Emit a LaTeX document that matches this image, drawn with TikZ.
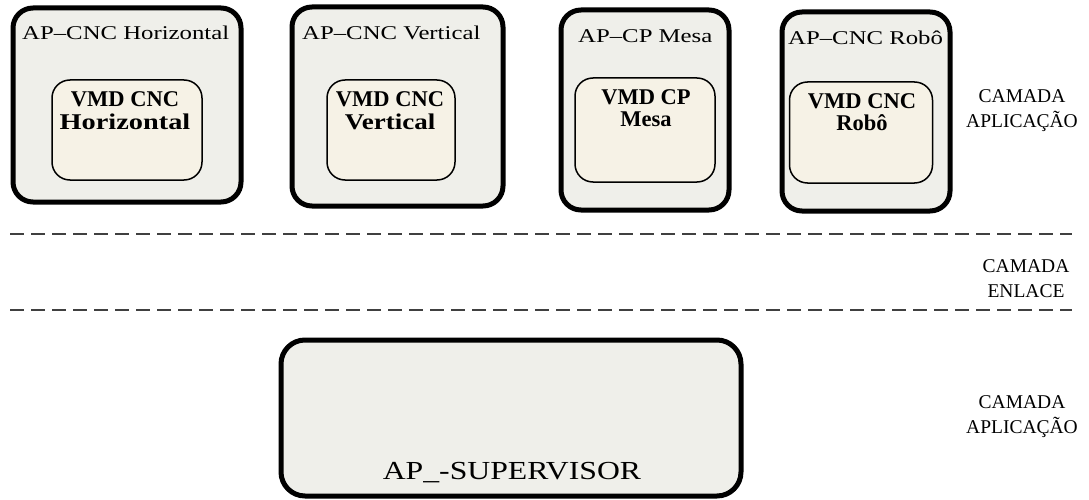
\documentclass[tikz,border=0pt]{standalone}
\usepackage{fontspec}
\usepackage{graphicx}
\setmainfont{Liberation Serif}
\newfontfamily\titlefont{Liberation Serif}[FakeStretch=1.27]
\newfontfamily\supfont{Liberation Serif}[FakeStretch=1.22]
\newcommand\hwide[2]{\scalebox{#1}[1]{#2}}
\definecolor{dotfill}{RGB}{239,239,234}
\definecolor{cream}{RGB}{246,242,230}
\begin{document}
\begin{tikzpicture}[x=1pt,y=-1pt,
  outerbox/.style={draw=black, line width=5pt, rounded corners=20pt, fill=dotfill, inner sep=0pt},
  innerbox/.style={draw=black, line width=1.5pt, rounded corners=18pt, fill=cream, inner sep=0pt},
  titletext/.style={font=\titlefont\fontsize{19.5}{22}\selectfont, inner sep=0pt, anchor=base west},
  innertext/.style={font=\bfseries\fontsize{22.5}{22}\selectfont, align=center, inner sep=0pt, anchor=base},
  layertext/.style={font=\fontsize{19.5}{25}\selectfont, align=center, inner sep=0pt, anchor=base},
  sep/.style={line width=1.4pt, dash pattern=on 14pt off 7pt, draw=black!75}]
\useasboundingbox (0,0) rectangle (1089,500);
% outer application boxes
\node[outerbox, minimum width=228pt, minimum height=194pt] (b1) at (127,105) {};
\node[outerbox, minimum width=211pt, minimum height=199pt] (b2) at (397.5,106.5) {};
\node[outerbox, minimum width=168pt, minimum height=200pt] (b3) at (645,110) {};
\node[outerbox, minimum width=168pt, minimum height=199pt] (b4) at (866,111.5) {};
% titles
\node[titletext] (t1) at (22,40) {AP–CNC Horizontal};
\node[titletext] (t2) at (302,40) {AP–CNC Vertical};
\node[titletext] (t3) at (578,43) {AP–CP Mesa};
\node[titletext] (t4) at (788,45) {AP–CNC Robô};
% inner VMD boxes
\node[innerbox, minimum width=150pt, minimum height=100pt] (i1) at (127,130) {};
\node[innerbox, minimum width=128pt, minimum height=100pt] (i2) at (391,130) {};
\node[innerbox, minimum width=140pt, minimum height=104pt] (i3) at (645,130) {};
\node[innerbox, minimum width=143pt, minimum height=101pt] (i4) at (861,132.5) {};
\node[innertext] (v1) at (125,129) {VMD CNC\\\hwide{1.26}{Horizontal}};
\node[innertext] (v2) at (390,129) {VMD CNC\\\hwide{1.2}{Vertical}};
\node[innertext] (v3) at (646,127) {VMD CP\\Mesa};
\node[innertext] (v4) at (862,131) {VMD CNC\\Robô};
% layer separators
\coordinate (s1a) at (10,234);
\coordinate (s1b) at (1072,234);
\coordinate (s2a) at (10,310);
\coordinate (s2b) at (1072,310);
\draw[sep] (s1a) -- (s1b);
\draw[sep] (s2a) -- (s2b);
% layer labels
\node[layertext] (l1) at (1022,128) {CAMADA\\APLICAÇÃO};
\node[layertext] (l2) at (1026,297) {CAMADA\\ENLACE};
\node[layertext] (l3) at (1022,433) {CAMADA\\APLICAÇÃO};
% supervisor
\node[outerbox, rounded corners=24pt, minimum width=460pt, minimum height=156pt] (sup) at (511,418) {};
\node[font=\supfont\fontsize{26}{30}\selectfont, inner sep=0pt, anchor=base] (supt) at (512,479) {AP\_-SUPERVISOR};
\end{tikzpicture}
\end{document}
